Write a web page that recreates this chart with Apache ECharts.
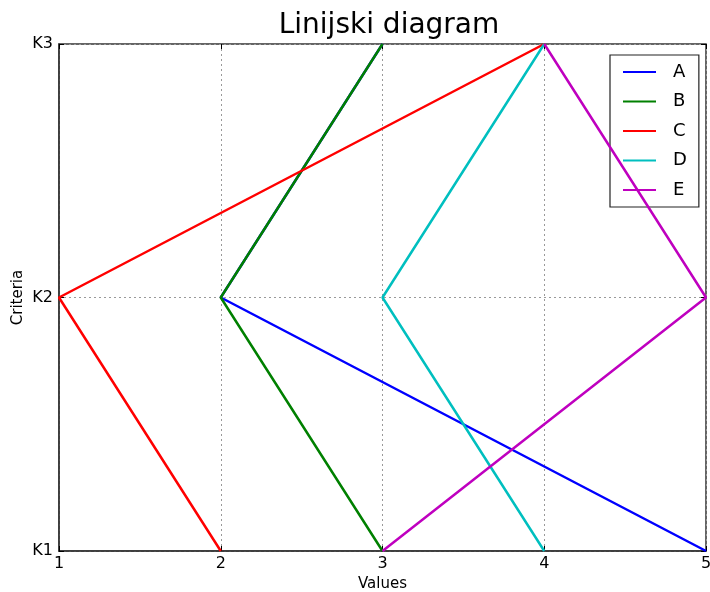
<!DOCTYPE html>
<html><head><meta charset="utf-8">
<script src="https://cdn.jsdelivr.net/npm/echarts@6/dist/echarts.min.js"></script>
<style>html,body{margin:0;padding:0;background:#fff}#c{width:710px;height:592px}</style>
</head><body><div id="c"></div>
<script>
const criteria = ['K1', 'K2', 'K3'];
const xTicks = [1, 2, 3, 4, 5];
const seriesNames = ['A', 'B', 'C', 'D', 'E'];
const A = [5, 2, 3];
const B = [3, 2, 3];
const C = [2, 1, 4];
const D = [4, 3, 4];
const E = [3, 5, 4];
const colors = ['#0000ff', '#008000', '#ff0000', '#00bfbf', '#bf00bf'];
const values = [A, B, C, D, E];

const chart = echarts.init(document.getElementById('c'));
const font = 'DejaVu Sans';
const tickStyle = {show: true, inside: true, length: 5, lineStyle: {color: '#000', width: 1}};
const option = {
  animation: false,
  textStyle: {fontFamily: font},
  title: {text: 'Linijski diagram', left: 384, top: 7, textAlign: 'center',
    textStyle: {fontFamily: font, fontSize: 28, fontWeight: 'normal', color: '#000'}},
  grid: {left: 59, right: 4, top: 44, bottom: 41, show: true, borderColor: '#333', borderWidth: 1.5,
    outerBoundsMode: 'none', containLabel: false},
  legend: {
    orient: 'vertical', left: 610, top: 55,
    backgroundColor: '#fff', borderColor: '#222', borderWidth: 1.2,
    padding: [8, 12, 8, 13], itemWidth: 33, itemHeight: 12, itemGap: 11.5,
    icon: 'path://M0,5 L32,5 L32,7 L0,7 Z',
    textStyle: {fontFamily: font, fontSize: 18, color: '#000', padding: [0, 0, 0, 12]},
    data: seriesNames
  },
  xAxis: [{
    type: 'value', min: 1, max: 5, interval: 1,
    name: 'Values', nameLocation: 'middle', nameGap: 26,
    nameTextStyle: {fontFamily: font, fontSize: 15, color: '#000'},
    axisLine: {show: true, lineStyle: {color: '#333', width: 1.5}},
    axisTick: tickStyle,
    axisLabel: {color: '#000', fontSize: 16, margin: 5, fontFamily: font},
    splitLine: {show: true, lineStyle: {color: '#999', type: [2, 3], width: 1}}
  }, {
    type: 'value', min: 1, max: 5, interval: 1, position: 'top',
    axisLine: {show: false}, axisTick: tickStyle, axisLabel: {show: false}, splitLine: {show: false}
  }],
  yAxis: [{
    type: 'category', data: criteria, boundaryGap: false,
    name: 'Criteria', nameLocation: 'middle', nameGap: 33, nameRotate: 90, nameMoveOverlap: false,
    nameTextStyle: {fontFamily: font, fontSize: 15, color: '#000'},
    axisLine: {show: true, lineStyle: {color: '#333', width: 1.5}},
    axisTick: tickStyle,
    axisLabel: {color: '#000', fontSize: 16, margin: 6, fontFamily: font},
    splitLine: {show: true, lineStyle: {color: '#999', type: [2, 3], width: 1}}
  }, {
    type: 'category', data: criteria, boundaryGap: false, position: 'right',
    axisLine: {show: false}, axisTick: tickStyle, axisLabel: {show: false}, splitLine: {show: false}
  }],
  series: seriesNames.map((n, i) => ({
    name: n, type: 'line', symbol: 'none',
    data: values[i].map((v, j) => [v, criteria[j]]),
    lineStyle: {color: colors[i], width: 2.5},
    itemStyle: {color: colors[i]},
    z: 2 + i
  }))
};
chart.setOption(option);
</script></body></html>
